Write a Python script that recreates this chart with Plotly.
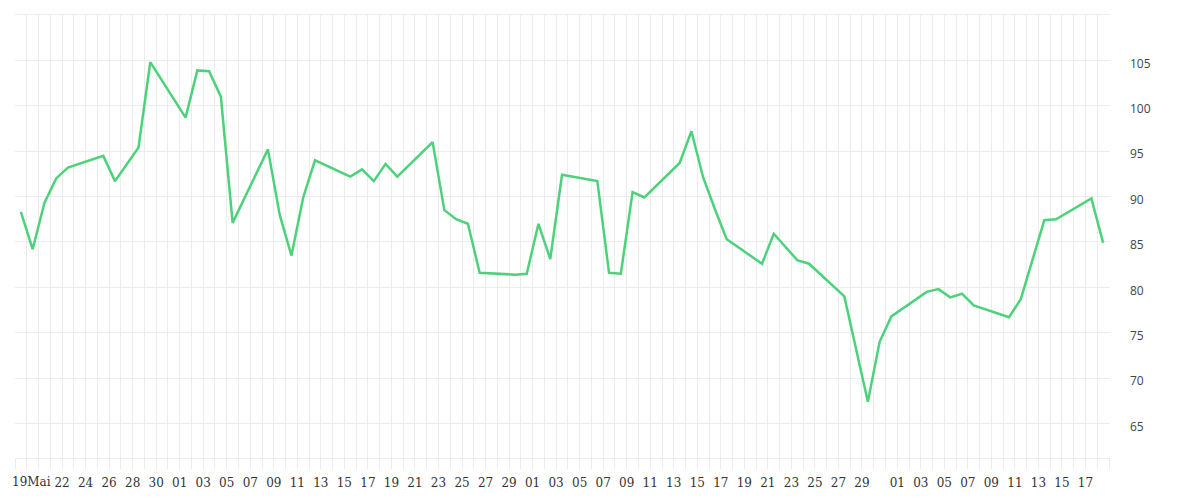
import pandas as pd
import plotly.graph_objects as go

# daily values (gaps = weekends / missing days)
dates = [
    "2020-05-18", "2020-05-19", "2020-05-20", "2020-05-21", "2020-05-22",
    "2020-05-25", "2020-05-26", "2020-05-28", "2020-05-29",
    "2020-06-01", "2020-06-02", "2020-06-03", "2020-06-04", "2020-06-05",
    "2020-06-08", "2020-06-09", "2020-06-10", "2020-06-11", "2020-06-12",
    "2020-06-15", "2020-06-16", "2020-06-17", "2020-06-18", "2020-06-19",
    "2020-06-22", "2020-06-23", "2020-06-24", "2020-06-25", "2020-06-26",
    "2020-06-29", "2020-06-30", "2020-07-01", "2020-07-02", "2020-07-03",
    "2020-07-06", "2020-07-07", "2020-07-08", "2020-07-09", "2020-07-10",
    "2020-07-13", "2020-07-14", "2020-07-15", "2020-07-16", "2020-07-17",
    "2020-07-20", "2020-07-21", "2020-07-23", "2020-07-24",
    "2020-07-27", "2020-07-29", "2020-07-30", "2020-07-31",
    "2020-08-03", "2020-08-04", "2020-08-05", "2020-08-06", "2020-08-07",
    "2020-08-10", "2020-08-11", "2020-08-13", "2020-08-14",
    "2020-08-17", "2020-08-18",
]
values = [
    88.3, 84.2, 89.3, 92.0, 93.2,
    94.5, 91.7, 95.4, 104.8,
    98.7, 103.9, 103.8, 101.0, 87.1,
    95.2, 88.0, 83.5, 89.9, 94.0,
    92.2, 93.0, 91.7, 93.6, 92.2,
    96.0, 88.5, 87.5, 87.0, 81.6,
    81.4, 81.5, 87.0, 83.1, 92.4,
    91.7, 81.6, 81.5, 90.5, 89.9,
    93.7, 97.2, 92.1, 88.6, 85.3,
    82.6, 85.9, 83.0, 82.6,
    79.0, 67.4, 74.0, 76.8,
    79.5, 79.8, 78.9, 79.3, 78.0,
    76.7, 78.7, 87.4, 87.5,
    89.8, 84.9,
]

# x tick labels: every other day, restarting at 01 each month
label_dates = (
    ["2020-05-%02d" % d for d in range(22, 31, 2)]
    + ["2020-06-%02d" % d for d in range(1, 30, 2)]
    + ["2020-07-%02d" % d for d in range(1, 30, 2)]
    + ["2020-08-%02d" % d for d in range(1, 18, 2)]
)
first_label = "19Mai"
y_ticks = [65, 70, 75, 80, 85, 90, 95, 100, 105]

grid = "#ececec"
xfont = dict(family="DejaVu Serif", size=12, color="#333")

# one tick (and grid line) per day, text only on labelled days
all_days = pd.date_range("2020-05-18", "2020-08-19", freq="D")
label_map = {d: d[-2:] for d in label_dates}
tickvals = [d.strftime("%Y-%m-%d") for d in all_days]
ticktext = [label_map.get(d, "") for d in tickvals]

x_noon = [d + " 12:00" for d in dates]

fig = go.Figure(
    go.Scatter(x=x_noon, y=values, mode="lines",
               line=dict(color="#4cd27b", width=2.5))
)

# page body adds an 8px offset, margins compensate for it
fig.update_layout(
    width=1200, height=500,
    margin=dict(l=7, r=98, t=7, b=50),
    paper_bgcolor="white", plot_bgcolor="white",
    showlegend=False,
    xaxis=dict(
        type="date",
        range=["2020-05-18", "2020-08-19 02:00"],
        tickmode="array", tickvals=tickvals, ticktext=ticktext,
        showgrid=True, gridcolor=grid, gridwidth=1,
        ticks="outside", ticklen=10, tickcolor=grid,
        showline=True, mirror=True, linecolor=grid, linewidth=1,
        zeroline=False,
        tickfont=xfont,
        ticklabelstandoff=4,
    ),
    yaxis=dict(
        side="right",
        range=[61.2, 110.0],
        tickmode="array", tickvals=y_ticks,
        showgrid=True, gridcolor=grid, gridwidth=1,
        zeroline=False, showline=False, ticks="",
        tickfont=dict(family="Open Sans", size=12, color="#444"),
        ticklabelstandoff=19,
        ticklabelshift=3,
    ),
)

fig.add_annotation(
    x="2020-05-19 10:00", y=0, xref="x", yref="paper",
    yanchor="top", yshift=-15, showarrow=False,
    text=first_label, font=xfont,
)

fig.write_html("out.html")
